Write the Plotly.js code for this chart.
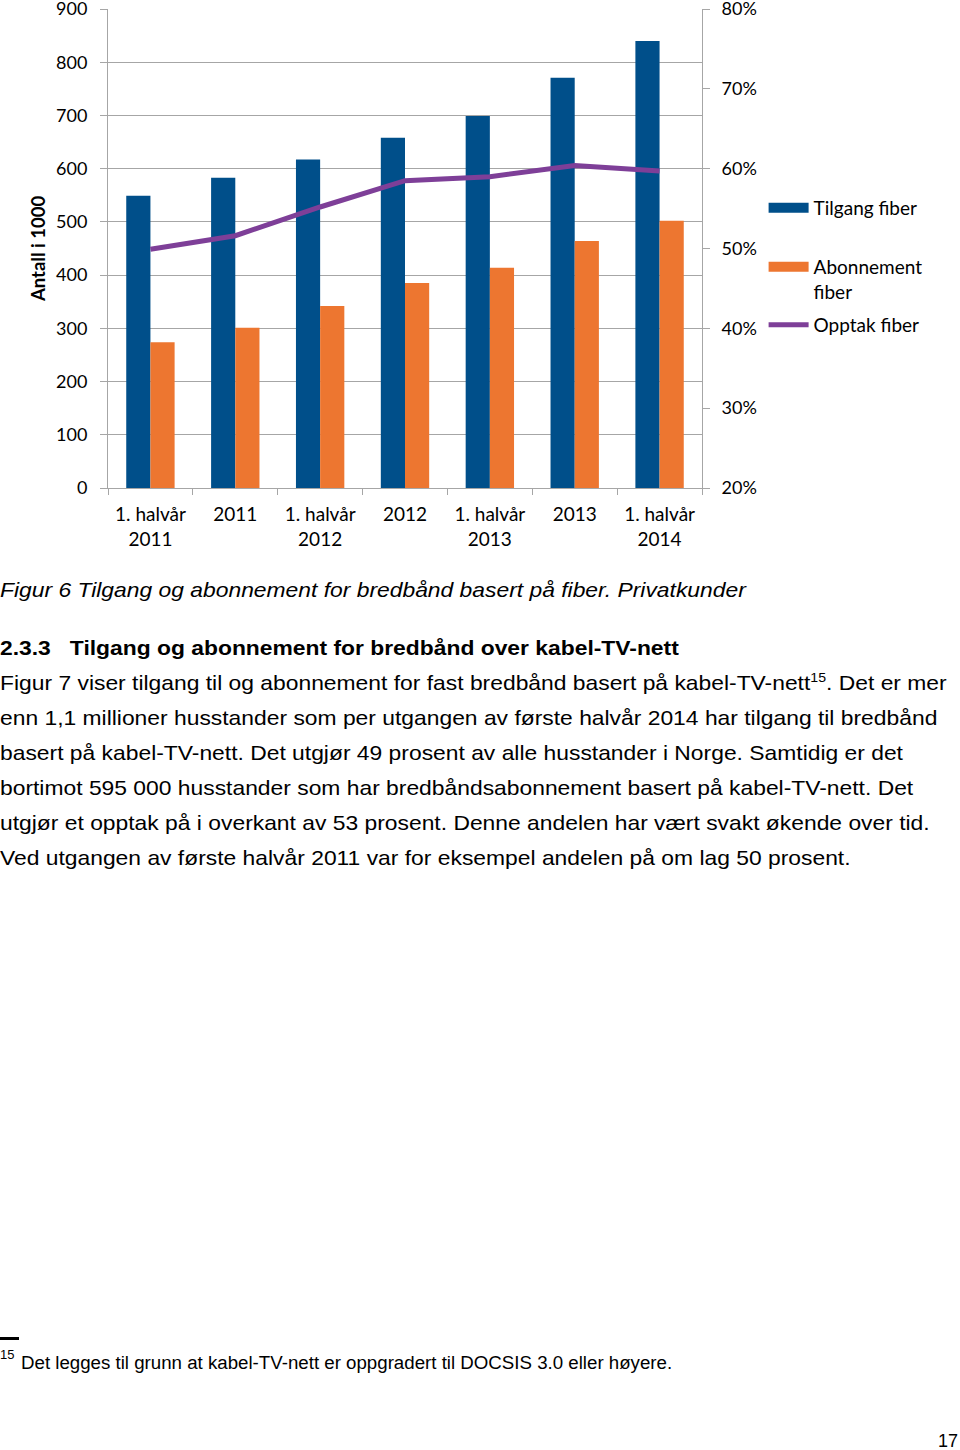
<!DOCTYPE html>
<html>
<head>
<meta charset="utf-8">
<script src="https://cdn.plot.ly/plotly-3.0.1.min.js"></script>
<style>
  html, body { margin: 0; padding: 0; background: #fff; }
  body { width: 960px; height: 1450px; position: relative; overflow: hidden; }
  #chart { position: absolute; left: 0; top: -21px; width: 960px; height: 581px; }
  .t { position: absolute; left: 0; white-space: nowrap; font-family: "Liberation Sans", Arial, sans-serif; color: #000; line-height: 35px; transform-origin: 0 50%; }
  .w { transform: scaleX(1.088); }
  .body { font-size: 21px; }
  .sup { position: relative; top: -8px; font-size: 13px; line-height: 0; }
</style>
</head>
<body>
<div id="chart"></div>

<div class="t w" style="top:572px; font-size:21px; font-style:italic;">Figur 6 Tilgang og abonnement for bredbånd basert på fiber. Privatkunder</div>
<div class="t w" style="top:630px; font-size:21px; font-weight:bold;">2.3.3&nbsp;&nbsp;&nbsp;Tilgang og abonnement for bredbånd over kabel-TV-nett</div>
<div class="t w body" style="top:665px;">Figur 7 viser tilgang til og abonnement for fast bredbånd basert på kabel-TV-nett<span class="sup">15</span>. Det er mer</div>
<div class="t w body" style="top:700px;">enn 1,1 millioner husstander som per utgangen av første halvår 2014 har tilgang til bredbånd</div>
<div class="t w body" style="top:735px;">basert på kabel-TV-nett. Det utgjør 49 prosent av alle husstander i Norge. Samtidig er det</div>
<div class="t w body" style="top:770px;">bortimot 595 000 husstander som har bredbåndsabonnement basert på kabel-TV-nett. Det</div>
<div class="t w body" style="top:805px;">utgjør et opptak på i overkant av 53 prosent. Denne andelen har vært svakt økende over tid.</div>
<div class="t w body" style="top:840px;">Ved utgangen av første halvår 2011 var for eksempel andelen på om lag 50 prosent.</div>

<div style="position:absolute; left:0; top:1337px; width:19px; height:3px; background:#000;"></div>
<div class="t" style="top:1345px; font-size:13px; line-height:20px;">15</div>
<div class="t" style="top:1350px; left:21px; font-size:18px; line-height:26px; transform: scaleX(1.038);">Det legges til grunn at kabel-TV-nett er oppgradert til DOCSIS 3.0 eller høyere.</div>
<div class="t" style="top:1430px; left:938px; font-size:18px; line-height:22px;">17</div>

<script>
const categories = ["1. halvår<br>2011", "2011", "1. halvår<br>2012", "2012", "1. halvår<br>2013", "2013", "1. halvår<br>2014"];
const tilgangFiber = [549, 583, 617, 658, 699, 771, 840];
const abonnementFiber = [274, 301, 342, 385, 414, 464, 502];
const opptakFiber = [0.499, 0.516, 0.552, 0.585, 0.590, 0.604, 0.597];
const seriesNames = ["Tilgang fiber", "Abonnement<br>fiber", "Opptak fiber"];

const FONT = "Lato, 'Open Sans', sans-serif";
const tickFont = { family: FONT, size: 18, color: "#000" };
const xTickFont = { family: FONT, size: 19, color: "#000" };
const legendFont = { family: FONT, size: 19, color: "#000" };
const gridColor = "#a6a6a6";
const blue = "#004f8a", orange = "#ed7630", purple = "#7e3f98";

const traces = [
  { type: "bar", name: seriesNames[0], x: categories, y: tilgangFiber,
    marker: { color: blue }, showlegend: false, hoverinfo: "y" },
  { type: "bar", name: seriesNames[1], x: categories, y: abonnementFiber,
    marker: { color: orange }, showlegend: false, hoverinfo: "y" },
  { type: "scatter", mode: "lines", name: seriesNames[2], x: categories, y: opptakFiber,
    yaxis: "y2", line: { color: purple, width: 5 }, legend: "legend3", hoverinfo: "y" },
  // legend-only keys for the bar series (drawn as wide rectangles, no data)
  { type: "scatter", mode: "lines", name: seriesNames[0], x: [null], y: [null],
    line: { color: blue, width: 12 }, legend: "legend", hoverinfo: "skip" },
  { type: "scatter", mode: "lines", name: seriesNames[1], x: [null], y: [null],
    line: { color: orange, width: 12 }, legend: "legend2", hoverinfo: "skip" }
];

function py(Y) { return (488 - Y) / 479; }
const legendBase = { x: 1.1037, xanchor: "left", yanchor: "middle", font: legendFont,
                     itemwidth: 40, bgcolor: "rgba(0,0,0,0)", borderwidth: 0 };

const layout = {
  width: 960, height: 581,
  margin: { l: 108, r: 258, t: 30, b: 72 },
  paper_bgcolor: "#fff", plot_bgcolor: "#fff",
  barmode: "group", bargap: 0.43, bargroupgap: 0,
  font: tickFont,
  showlegend: true,
  legend: Object.assign({}, legendBase, { y: py(208) }),
  legend2: Object.assign({}, legendBase, { y: py(279.5), valign: "top" }),
  legend3: Object.assign({}, legendBase, { y: py(325) }),
  xaxis: {
    type: "category", tickfont: xTickFont, showline: true, linecolor: gridColor, linewidth: 1,
    ticks: "outside", tickson: "boundaries", ticklen: 6, tickcolor: gridColor,
    ticklabelstandoff: 9, showgrid: false, zeroline: false
  },
  yaxis: {
    range: [0, 900], dtick: 100, tick0: 0, tickfont: tickFont,
    showgrid: true, gridcolor: gridColor, gridwidth: 1,
    showline: true, linecolor: gridColor, linewidth: 1,
    ticks: "outside", ticklen: 7, tickcolor: gridColor, zeroline: false,
    ticklabelstandoff: 9,
    title: { text: "<b>Antall i 1000</b>", font: { family: FONT, size: 18.5, color: "#000" }, standoff: 5 }
  },
  yaxis2: {
    range: [0.2, 0.8], dtick: 0.1, tick0: 0.2, tickformat: ".0%", overlaying: "y", side: "right",
    tickfont: tickFont, showgrid: false, showline: true, linecolor: gridColor, linewidth: 1,
    ticks: "outside", ticklen: 7, tickcolor: gridColor, zeroline: false,
    ticklabelstandoff: 8
  }
};

Plotly.newPlot("chart", traces, layout, { displayModeBar: false, staticPlot: true });
</script>
</body>
</html>
